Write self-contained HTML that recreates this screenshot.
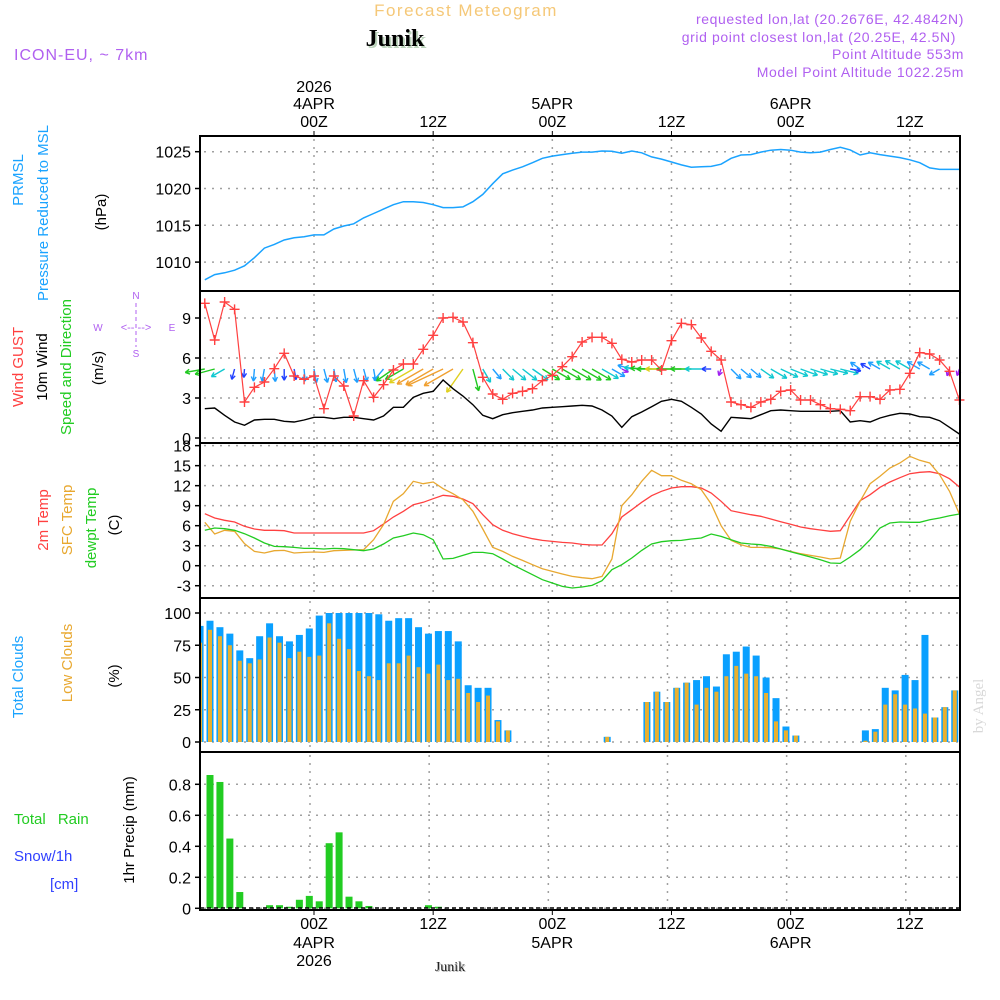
<!DOCTYPE html>
<html><head><meta charset="utf-8"><style>
body{margin:0;background:#fff}
svg{display:block;font-family:"Liberation Sans",sans-serif}
</style></head><body>
<svg id="chart" width="1000" height="1000" viewBox="0 0 1000 1000" xmlns="http://www.w3.org/2000/svg">
<rect width="1000" height="1000" fill="#fff"/>
<g id="header">
<text x="466" y="16" font-size="17" fill="#f5c878" text-anchor="middle" letter-spacing="1.5">Forecast Meteogram</text>
<text x="397" y="48" font-size="24" font-weight="bold" fill="#bcd4bc" text-anchor="middle" font-family="Liberation Serif,serif">Junik</text>
<text x="395" y="46" font-size="24" font-weight="bold" fill="#000" text-anchor="middle" font-family="Liberation Serif,serif">Junik</text>
<text x="14" y="60" font-size="16" fill="#b060f0" letter-spacing="1">ICON-EU, ~ 7km</text>
<text x="964" y="24" font-size="14" fill="#b060f0" text-anchor="end" letter-spacing="0.6">requested lon,lat (20.2676E, 42.4842N)</text>
<text x="956" y="42" font-size="14" fill="#b060f0" text-anchor="end" letter-spacing="0.6">grid point closest lon,lat (20.25E, 42.5N)</text>
<text x="964" y="59" font-size="14" fill="#b060f0" text-anchor="end" letter-spacing="0.6">Point Altitude 553m</text>
<text x="964" y="77" font-size="14" fill="#b060f0" text-anchor="end" letter-spacing="0.6">Model Point Altitude 1022.25m</text>
</g>
<g id="left-labels" font-size="15">
<text transform="translate(23,180) rotate(-90)" text-anchor="middle" fill="#1aa3ff">PRMSL</text>
<text transform="translate(48,213) rotate(-90)" text-anchor="middle" fill="#1aa3ff">Pressure Reduced to MSL</text>
<text transform="translate(106,212) rotate(-90)" text-anchor="middle" fill="#000">(hPa)</text>
<text transform="translate(23,367) rotate(-90)" text-anchor="middle" fill="#ff4040">Wind GUST</text>
<text transform="translate(47,367) rotate(-90)" text-anchor="middle" fill="#000">10m Wind</text>
<text transform="translate(71,367) rotate(-90)" text-anchor="middle" fill="#22cc22">Speed and Direction</text>
<text transform="translate(103,368) rotate(-90)" text-anchor="middle" fill="#000">(m/s)</text>
<g fill="#b060f0" font-size="10" text-anchor="middle">
<text x="136" y="299">N</text><text x="136" y="357">S</text><text x="98" y="331">W</text><text x="172" y="331">E</text>
<text x="136" y="331" font-size="11">&lt;-- --&gt;</text>
<line x1="136" y1="303" x2="136" y2="347" stroke="#b060f0" stroke-dasharray="4,3"/>
</g>
<text transform="translate(48,520) rotate(-90)" text-anchor="middle" fill="#ff4040">2m Temp</text>
<text transform="translate(72,520) rotate(-90)" text-anchor="middle" fill="#e8a830">SFC Temp</text>
<text transform="translate(96,528) rotate(-90)" text-anchor="middle" fill="#22cc22">dewpt Temp</text>
<text transform="translate(119,525) rotate(-90)" text-anchor="middle" fill="#000">(C)</text>
<text transform="translate(23,677) rotate(-90)" text-anchor="middle" fill="#1aa3ff">Total Clouds</text>
<text transform="translate(72,663) rotate(-90)" text-anchor="middle" fill="#e8a830">Low Clouds</text>
<text transform="translate(119,676) rotate(-90)" text-anchor="middle" fill="#000">(%)</text>
<text x="14" y="824" fill="#22cc22" word-spacing="8">Total  Rain</text>
<text x="14" y="861" fill="#3040ff">Snow/1h</text>
<text x="50" y="889" fill="#3040ff">[cm]</text>
<text transform="translate(134,830) rotate(-90)" text-anchor="middle" fill="#000">1hr Precip (mm)</text>
<text transform="translate(983,706) rotate(-90)" text-anchor="middle" fill="#d8d8d8" font-size="15" font-family="Liberation Serif,serif">by Angel</text>
<text x="451" y="972" font-size="14" text-anchor="middle" font-family="Liberation Serif,serif" fill="#bbb">Junik</text>
<text x="450" y="971" font-size="14" text-anchor="middle" font-family="Liberation Serif,serif" fill="#222">Junik</text>
</g>
<g id="plot"></g>
</svg>
<script>
const hours=[];for(let h=-11;h<=65;h++)hours.push(h);
const pressure=[1007.6,1008.3,1008.55,1008.9,1009.5,1010.6,1011.9,1012.4,1013.0,1013.3,1013.45,
1013.7,1013.7,1014.5,1014.9,1015.2,1016.0,1016.6,1017.2,1017.8,1018.2,
1018.2,1018.1,1017.8,1017.4,1017.4,1017.5,1018.2,1019.2,1020.65,1022.0,
1022.5,1022.95,1023.5,1024.1,1024.4,1024.6,1024.8,1024.95,1024.95,1025.1,
1025.05,1024.8,1025.1,1024.85,1024.3,1024.0,1023.6,1023.2,1022.9,1022.95,
1023.0,1023.3,1024.1,1024.55,1024.6,1024.95,1025.2,1025.3,1025.2,1024.95,
1024.85,1024.95,1025.3,1025.6,1025.25,1024.55,1024.85,1024.6,1024.4,1024.2,
1023.9,1023.5,1022.8,1022.6,1022.6,1022.6];
const gust=[10.1,7.35,10.2,9.65,2.7,3.8,4.2,5.2,6.35,4.65,4.4,
4.65,2.2,4.65,3.9,1.65,4.3,3.05,4.0,5.1,5.55,
5.55,6.65,7.7,9.0,9.05,8.7,7.15,4.55,3.3,2.9,
3.35,3.5,3.7,4.3,4.7,5.35,6.1,7.2,7.55,7.55,
7.1,5.9,5.7,5.85,5.85,5.1,7.3,8.6,8.5,7.5,
6.5,5.85,2.7,2.5,2.3,2.7,2.9,3.5,3.6,2.85,
2.85,2.5,2.2,2.15,2.05,3.1,3.1,2.9,3.6,3.65,
4.85,6.4,6.3,5.85,5.0,2.85];
const wind=[2.2,2.25,1.7,1.2,0.95,1.35,1.4,1.4,1.25,1.2,1.35,
1.55,1.55,1.45,1.55,1.55,1.45,1.35,1.65,2.3,2.3,
3.05,3.35,3.5,4.35,3.7,3.15,2.5,1.7,1.45,1.75,
1.9,2.0,2.1,2.25,2.3,2.35,2.4,2.45,2.4,2.1,
1.65,0.8,1.6,1.95,2.35,2.75,2.9,2.75,2.3,1.8,
1.05,0.5,1.55,1.5,1.45,1.75,2.05,2.1,2.05,2.0,
2.0,2.0,2.0,2.05,1.2,1.3,1.2,1.5,1.7,1.85,
1.8,1.6,1.55,1.3,0.8,0.3];
const windDir=[260,255,240,195,185,185,190,175,180,170,175,
170,165,170,170,165,165,170,220,235,240,
240,240,240,245,240,215,165,150,140,135,
130,128,125,122,120,120,120,120,120,120,
120,115,285,275,272,270,270,270,270,270,
270,200,135,130,130,125,120,115,112,110,
108,106,104,104,100,305,300,300,300,300,
300,300,300,240,200,200];
const t2m=[7.8,7.15,6.8,6.55,5.9,5.5,5.3,5.3,5.25,4.9,4.9,
4.9,4.9,4.9,4.9,4.9,4.9,5.25,6.25,7.3,8.15,
9.15,9.5,10.05,10.55,10.4,10.0,9.3,7.65,6.15,5.3,
4.8,4.4,4.05,3.8,3.65,3.5,3.4,3.2,3.1,3.1,
4.8,7.3,8.4,9.5,10.5,11.15,11.65,11.85,11.85,11.65,
10.9,9.65,8.25,7.95,7.65,7.4,7.0,6.6,6.2,5.8,
5.55,5.35,5.15,5.25,7.5,9.75,10.65,11.75,12.55,13.2,
13.8,14.0,14.1,13.8,13.05,11.8];
const sfcT=[6.5,4.75,5.3,5.15,3.3,2.15,1.9,2.25,2.3,1.9,2.0,
2.05,2.0,2.25,2.3,2.35,2.4,3.9,6.15,9.65,10.8,
12.65,12.3,12.55,11.55,10.8,9.9,8.15,5.5,2.75,2.15,
1.4,0.8,0.15,-0.45,-0.85,-1.25,-1.6,-1.8,-1.95,-1.6,
1.0,9.0,10.65,12.65,14.3,13.5,13.5,12.8,12.3,11.4,
9.25,6.0,3.8,3.15,2.75,2.75,2.7,2.5,2.15,1.8,
1.55,1.3,1.0,1.15,6.65,9.65,12.3,13.4,14.65,15.4,
16.4,15.8,15.4,13.65,11.15,7.75];
const dewT=[5.3,5.65,5.55,5.3,4.8,4.15,3.4,2.9,2.85,2.75,2.6,
2.6,2.5,2.6,2.55,2.4,2.25,2.5,3.25,4.15,4.5,
4.9,4.65,3.9,1.0,1.1,1.55,2.0,2.0,1.8,1.0,
0.15,-0.6,-1.35,-2.1,-2.6,-3.1,-3.35,-3.2,-2.95,-2.25,
-0.6,0.15,1.15,2.3,3.25,3.6,3.75,3.8,4.0,4.15,
4.75,4.4,3.9,3.4,3.25,3.15,2.9,2.5,2.1,1.7,
1.3,0.9,0.4,0.35,1.3,2.4,3.9,5.65,6.4,6.55,
6.5,6.5,6.9,7.15,7.5,7.75];
const totalCloud=[90,94,89,84,71,65,82,92,82,78,83,
88,98,100,100,100,100,100,99,94,96,
96,89,84,86,86,78,44,42,42,17,
9,0,0,0,0,0,0,0,0,0,
4,0,0,0,31,39,31,42,46,48,
51,43,68,70,74,67,50,34,12,5,
0,0,0,0,0,0,9,10,42,40,
52,48,83,19,27,40];
const lowCloud=[77,87,82,75,63,61,64,81,77,65,70,
66,67,92,80,72,55,51,48,61,61,
67,58,53,60,48,49,38,31,36,16,
9,0,0,0,0,0,0,0,0,0,
4,0,0,0,31,39,31,42,46,29,
42,39,51,59,53,51,38,16,9,5,
0,0,0,0,0,0,1,8,29,37,
29,26,22,19,27,40];
const precip=[0,0.86,0.815,0.45,0.105,0,0,0.02,0.02,0.01,0.055,
0.08,0.045,0.42,0.49,0.075,0.045,0.015,0,0,0,
0,0,0.02,0.01,0,0,0,0,0,0,
0,0,0,0,0,0,0,0,0,0,
0,0,0,0,0,0,0,0,0,0,
0,0,0,0,0,0,0,0,0,0,
0,0,0,0,0,0,0,0,0,0,
0,0,0,0,0,0];
const pTicks=[1010,1015,1020,1025];
const wTicks=[0,3,6,9];
const wTickLabels=["0","3","6","9"];
const tTicks=[-3,0,3,6,9,12,15,18];
const cTicks=[0,25,50,75,100];
const rTicks=[0,0.2,0.4,0.6,0.8];
const gridHours=[0,12,24,36,48,60];
const hourLabels=["00Z","12Z","00Z","12Z","00Z","12Z"];
const dayLabels=["4APR","","5APR","","6APR",""];
const yearLabels=["2026","","","","",""];

const NS="http://www.w3.org/2000/svg";
const plot=document.getElementById('plot');
function el(tag,attrs,parent){const e=document.createElementNS(NS,tag);for(const k in attrs)e.setAttribute(k,attrs[k]);(parent||plot).appendChild(e);return e;}
const X0=200,X1=960;
const xh=h=>314+9.93*h;
const xb=h=>xh(h)-4.7;
const yP=v=>151.7+(1025-v)*7.36;
const yW=v=>438-v*40/3;
const yT=v=>565.7-v*6.67;
const yC=v=>742-v*1.29;
const yR=v=>908.3-v*155;
const panels=[[136,291],[291,443],[443,598],[598,752],[752,910]];
const GRID={stroke:'#a0a0a0','stroke-width':1.5,'stroke-dasharray':'2,6',fill:'none'};

function hgrid(vals,fy,labels){
  vals.forEach((v,i)=>{
    const y=fy(v);
    const g=el('line',Object.assign({x1:X0+4,x2:X1,y1:y,y2:y},GRID));
    
    
    const t=el('line',{x1:X0-5,x2:X0,y1:y,y2:y,stroke:'#000','stroke-width':1.5});
    
    
    const lab=labels?labels[i]:String(v);
    if(lab!==''){
      const tx=el('text',{x:X0-9,y:y+6,'font-size':16,'text-anchor':'end',fill:'#000'});
      tx.textContent=lab;
      
      
    }
  });
}
function vgrid(p,off){
  gridHours.forEach(h=>{
    const x=xh(h)+off;
    const g=el('line',Object.assign({x1:x,x2:x,y1:panels[p][0]+3,y2:panels[p][1]},GRID));
    
    
  });
}
for(let p=0;p<5;p++)vgrid(p,p>=3?-4:0);
hgrid(pTicks,yP);
hgrid(wTicks,yW,wTickLabels);
hgrid(tTicks,yT);
hgrid(cTicks,yC);
hgrid(rTicks,yR,rTicks.map(v=>v===0?'0':v.toFixed(1)));

function line(vals,fx,fy,color,name,w){
  const d=vals.map((v,i)=>(i?'L':'M')+fx(hours[i]).toFixed(1)+','+fy(v).toFixed(1)).join('');
  const p=el('path',{d:d,stroke:color,'stroke-width':w||1.4,fill:'none'});
  
  
  return p;
}
line(pressure,xh,yP,'#1aa3ff','pressure-line',1.5);
function wcol(s){return s<0.9?'#a020f0':s<1.3?'#2040ff':s<1.7?'#1e9fff':s<2.2?'#10c8d0':s<2.8?'#20c820':s<3.3?'#e0d020':'#f0a030';}
hours.forEach((h,i)=>{
  const s=wind[i],a=windDir[i]*Math.PI/180,L=Math.max(7,9*s);
  const x1=xh(h),y1=369,x2=x1+Math.sin(a)*L,y2=y1-Math.cos(a)*L;
  const g=el('g',{stroke:wcol(s),'stroke-width':1.4,fill:'none'});
  
  
  el('line',{x1:x1,y1:y1,x2:x2,y2:y2},g);
  const ang=Math.atan2(y2-y1,x2-x1);
  [0.5,-0.5].forEach(d=>{el('line',{x1:x2,y1:y2,x2:x2-5*Math.cos(ang+d),y2:y2-5*Math.sin(ang+d)},g);});
});
line(wind,xh,yW,'#000','wind-speed-line',1.4);
line(gust,xh,yW,'#ff4040','gust-line',1.2);
hours.forEach((h,i)=>{
  const x=xh(h),y=yW(gust[i]);
  const m=el('path',{d:`M${x-5},${y}H${x+5}M${x},${y-5}V${y+5}`,stroke:'#ff4040','stroke-width':1.4});
  
  
});
line(t2m,xh,yT,'#ff4040','t2m-line',1.3);
line(sfcT,xh,yT,'#e8a830','sfc-temp-line',1.3);
line(dewT,xh,yT,'#22cc22','dewpoint-line',1.3);
hours.forEach((h,i)=>{
  const x=xb(h);
  if(totalCloud[i]>0){
    const r=el('rect',{x:Math.max(X0,x-3.5),y:yC(totalCloud[i]),width:Math.min(7,x+3.5-X0),height:742-yC(totalCloud[i]),fill:'#0aa0ff'});
    
    
  }
  if(lowCloud[i]>0){
    const r=el('rect',{x:Math.max(X0,x-2),y:yC(lowCloud[i]),width:Math.min(4,x+2-X0),height:742-yC(lowCloud[i]),fill:'#e8b030'});
    
    
  }
  if(precip[i]>0){
    const r=el('rect',{x:x-3.5,y:yR(precip[i]),width:7,height:908.3-yR(precip[i]),fill:'#22cc22'});
    
    
  }
});
const zl=el('line',{x1:X0,x2:X1,y1:908,y2:908,stroke:'#000','stroke-width':1.5,'stroke-dasharray':'4,3'});


panels.forEach(p=>{
  const r=el('rect',{x:X0,y:p[0],width:X1-X0,height:p[1]-p[0],fill:'none',stroke:'#000','stroke-width':2});
  
  
});
gridHours.forEach((h,i)=>{
  const x=xh(h);
  const t1=el('line',{x1:x,x2:x,y1:131,y2:136,stroke:'#000'});
  
  
  const t2=el('line',{x1:x,x2:x,y1:910,y2:915,stroke:'#000'});
  
  
  const a=el('text',{x:x,y:127,'font-size':16,'text-anchor':'middle',fill:'#000'});a.textContent=hourLabels[i];
  
  
  const b=el('text',{x:x,y:929,'font-size':16,'text-anchor':'middle',fill:'#000'});b.textContent=hourLabels[i];
  
  
  if(dayLabels[i]){
    const c=el('text',{x:x,y:109,'font-size':16,'text-anchor':'middle',fill:'#000'});c.textContent=dayLabels[i];
    
    
    const d=el('text',{x:x,y:948,'font-size':16,'text-anchor':'middle',fill:'#000'});d.textContent=dayLabels[i];
    
    
  }
  if(yearLabels[i]){
    const c=el('text',{x:x,y:92,'font-size':16,'text-anchor':'middle',fill:'#000'});c.textContent=yearLabels[i];
    
    
    const d=el('text',{x:x,y:966,'font-size':16,'text-anchor':'middle',fill:'#000'});d.textContent=yearLabels[i];
    
    
  }
});
</script>
</body></html>
